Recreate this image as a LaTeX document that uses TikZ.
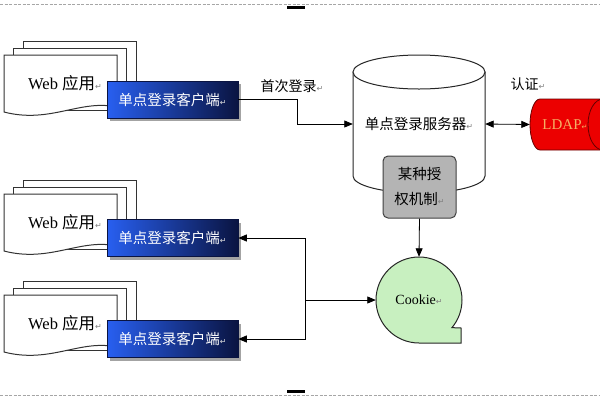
\documentclass[tikz,border=0pt]{standalone}
\usepackage{fontspec}
\setmainfont{Liberation Serif}
\newfontfamily\cjk{Noto Sans CJK SC}
\newfontfamily\symfont{DejaVu Sans}
\usetikzlibrary{arrows.meta,shadows}
\definecolor{bluel}{RGB}{40,95,240}
\definecolor{bluer}{RGB}{10,20,65}
\definecolor{cookiegreen}{RGB}{200,240,192}
\definecolor{authgray}{RGB}{180,180,180}
\definecolor{ldapred}{RGB}{236,0,0}
\definecolor{ldaptext}{RGB}{245,175,100}
\newcommand\retmark{{\symfont\fontsize{8}{8}\selectfont\textcolor{gray}{↵}}}
\newcommand\retmarkw{{\symfont\fontsize{8}{8}\selectfont\textcolor{gray!30}{↵}}}
\tikzset{
  docline/.style={draw=black!80, line width=1pt, fill=white},
  client/.style={draw=bluer, line width=0.6pt, left color=bluel, right color=bluer,
     minimum width=131pt, minimum height=37pt, inner sep=0pt, text=white,
     font=\cjk\fontsize{14.5}{16}\selectfont,
     drop shadow={shadow xshift=3pt, shadow yshift=-3pt, fill=black!45, opacity=0.8}},
  conn/.style={draw=black, line width=0.8pt, -{Triangle[length=8.5pt,width=7pt]}},
  lbl/.style={inner sep=0pt, font=\cjk\fontsize{14}{16}\selectfont},
  outline/.style={draw=black!85, line width=1pt}
}
\newcommand\docstack[2]{%
  \begin{scope}[shift={(0,#1)}]
    \draw[docline] (23,41) rectangle (136,110);
    \draw[docline] (13,48) rectangle (126,110);
    \draw[docline] (4,55) -- (117,55) -- (117,107) .. controls (80,99) and (50,124) .. (4,112) -- cycle;
    \node[inner sep=0pt] (#2) at (65,83) {\fontsize{16.5}{18}\selectfont Web {\cjk 应用}\retmark};
  \end{scope}}
\begin{document}
\begin{tikzpicture}[x=1pt,y=-1pt]
\clip (0,0) rectangle (600,400);
\fill[white] (0,0) rectangle (600,400);
% page marks
\draw[black!35, dash pattern=on 3pt off 1.5pt, line width=0.8pt] (0,4) -- (600,4);
\draw[black!35, dash pattern=on 3pt off 1.5pt, line width=0.8pt] (0,395) -- (600,395);
\fill[black] (287,6) rectangle (305,9);
\fill[black] (287,390) rectangle (305,393);
% web applications
\docstack{0}{w1}
\docstack{139}{w2}
\docstack{240}{w3}
% clients
\node[client] (c1) at (172.5,99.5) {单点登录客户端\retmarkw};
\node[client] (c2) at (172.5,238) {单点登录客户端\retmarkw};
\node[client] (c3) at (172.5,339) {单点登录客户端\retmarkw};
% server cylinder
\draw[outline, fill=white] (353,72) -- (353,176) arc[start angle=180, end angle=360, x radius=66pt, y radius=17pt] -- (485,72) -- cycle;
\draw[outline, fill=white] (419,72) ellipse[x radius=66pt, y radius=17pt];
\node[minimum width=132pt, inner sep=0pt, font=\cjk\fontsize{14.5}{16}\selectfont] (srv) at (419,124) {单点登录服务器\retmark};
% authorization box
\node[draw=black!75, line width=1pt, fill=authgray, rounded corners=5pt, minimum width=73pt, minimum height=62pt,
      align=center, inner sep=0pt, font=\cjk\fontsize{14.5}{25}\selectfont] (auth) at (419.5,187) {某种授\\权机制\retmark};
% LDAP
\draw[draw=black!60!red, line width=0.8pt, fill=ldapred] (540,99) arc[start angle=90, end angle=270, x radius=10pt, y radius=25.5pt] -- (603,150) -- (603,99) -- cycle;
\draw[draw=black!60!red, line width=0.8pt, fill=ldapred] (603,124.5) ellipse[x radius=15pt, y radius=25.5pt];
\node[minimum width=70pt, minimum height=51pt, inner sep=0pt, text=ldaptext, font=\fontsize{15}{16}\selectfont] (ldap) at (565,124.5) {LDAP{\symfont\fontsize{7}{8}\selectfont\textcolor{ldaptext}{↵}}};
% cookie
\draw[outline, fill=cookiegreen] (419,343) arc[start angle=270, end angle=-40, radius=43pt] -- (461,328) -- (461,343) -- cycle;
\node[circle, minimum size=86pt, inner sep=0pt, font=\fontsize{14}{16}\selectfont] (cookie) at (419,300) {Cookie\retmark};
% labels
\node[lbl] (l1) at (292,86) {首次登录\retmark};
\node[lbl] (l2) at (528,84) {认证\retmark};
% connectors
\draw[conn] (c1.east) -- ++(59,0) |- (srv.west);
\draw[conn, {Triangle[length=8.5pt,width=7pt]}-{Triangle[length=8.5pt,width=7pt]}] (srv.east) -- (ldap.west);
\draw[conn] (auth.south) -- (cookie.north);
\path (cookie.west) -- ++(-70,0) coordinate (j);
\draw[conn] (j) -- (cookie.west);
\draw[conn] (j) |- (c2.east);
\draw[conn] (j) |- (c3.east);
\end{tikzpicture}
\end{document}
